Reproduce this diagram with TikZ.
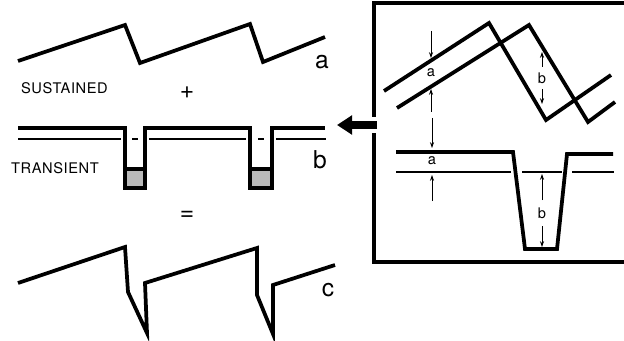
\documentclass[tikz,border=0pt]{standalone}
\usepackage{fontspec}
\setmainfont{TeX Gyre Heros}
\usetikzlibrary{arrows.meta}

\tikzset{
    wave/.style={line width=3.2pt, line join=miter, line cap=butt},
    level/.style={line width=1.4pt},
    gauge/.style={line width=0.7pt, -{Stealth[length=5pt,width=3.5pt]}},
    biglabel/.style={font=\fontsize{21}{24}\selectfont},
    smalllabel/.style={font=\fontsize{12.5}{14}\selectfont},
    caption/.style={font=\fontsize{12.5}{14}\selectfont\addfontfeatures{LetterSpace=4}, anchor=west}
}

\begin{document}
\begin{tikzpicture}[x=0.03cm,y=-0.03cm]
\useasboundingbox (0,0) rectangle (624,341);

% Sustained waveform (a)
\draw[wave] (18,61) -- (125,25) -- (140,63) -- (250,24) -- (263,62) -- (325,37);
\node[biglabel] (la) at (322,62) {a};
\node[caption] (sust) at (17,88) {SUSTAINED};
\node[biglabel] (plus) at (187,93) {+};

% Transient waveform (b)
\fill[gray!55] (127,169) rectangle (143,188);
\fill[gray!55] (252,169) rectangle (270,188);
\draw[wave] (127,169) -- (143,169);
\draw[wave] (252,169) -- (270,169);
\draw[wave] (18,128) -- (125,128) -- (125,188) -- (145,188) -- (145,128)
    -- (250,128) -- (250,188) -- (272,188) -- (272,128) -- (325,128);
\draw[level] (18,139) -- (121,139);
\draw[level] (132,139) -- (138,139);
\draw[level] (149,139) -- (246,139);
\draw[level] (258,139) -- (264,139);
\draw[level] (276,139) -- (326,139);
\node[biglabel] (lb) at (320,160) {b};
\node[caption] (trans) at (7,168) {TRANSIENT};
\node[biglabel] (eq) at (187,216) {=};

% Resulting waveform (c)
\draw[wave] (18,283) -- (125,247) -- (128,292) -- (147,333) -- (145,283)
    -- (257,248) -- (257,295) -- (273,334) -- (273,285) -- (335,265);
\node[biglabel] (lc) at (328,290) {c};

% Box (open on the right)
\draw[line width=2.6pt] (624,3) -- (374,3) -- (374,117);
\draw[line width=2.6pt] (374,133) -- (374,262) -- (624,262);

% Big arrow
\coordinate (from) at (377,125);
\coordinate (to) at (337,125);
\draw[line width=6.5pt, -{Triangle[length=13pt,width=16pt]}] (from) -- (to);

% Detail: sustained
\draw[wave] (384,91) -- (489,23) -- (546,120) -- (611,75);
\draw[wave] (397,108) -- (529,25) -- (588,122) -- (615,102);
\coordinate (sa1) at (431,31);
\coordinate (sa2) at (431,58);
\coordinate (sa3) at (431,112);
\coordinate (sa4) at (431,89);
\draw[gauge] (sa1) -- (sa2);
\draw[gauge] (sa3) -- (sa4);
\node[smalllabel] (da) at (431,73) {a};
\coordinate (sb1) at (542,67);
\coordinate (sb2) at (542,52);
\coordinate (sb3) at (542,89);
\coordinate (sb4) at (542,104);
\draw[gauge] (sb1) -- (sb2);
\draw[gauge] (sb3) -- (sb4);
\node[smalllabel] (db) at (542,78) {b};

% Detail: transient
\draw[wave] (396,152) -- (513,152) -- (525,249) -- (557,249) -- (567,154) -- (613,154);
\draw[level] (396,172) -- (511,172);
\draw[level] (522,172) -- (562,172);
\draw[level] (572,172) -- (614,172);
\coordinate (ta1) at (432,118);
\coordinate (ta2) at (432,148);
\coordinate (ta3) at (432,201);
\coordinate (ta4) at (432,175);
\draw[gauge] (ta1) -- (ta2);
\draw[gauge] (ta3) -- (ta4);
\node[smalllabel] (tda) at (432,161) {a};
\coordinate (tb1) at (542,200);
\coordinate (tb2) at (542,174);
\coordinate (tb3) at (542,226);
\coordinate (tb4) at (542,247);
\draw[gauge] (tb1) -- (tb2);
\draw[gauge] (tb3) -- (tb4);
\node[smalllabel] (tdb) at (542,213) {b};

\end{tikzpicture}
\end{document}
